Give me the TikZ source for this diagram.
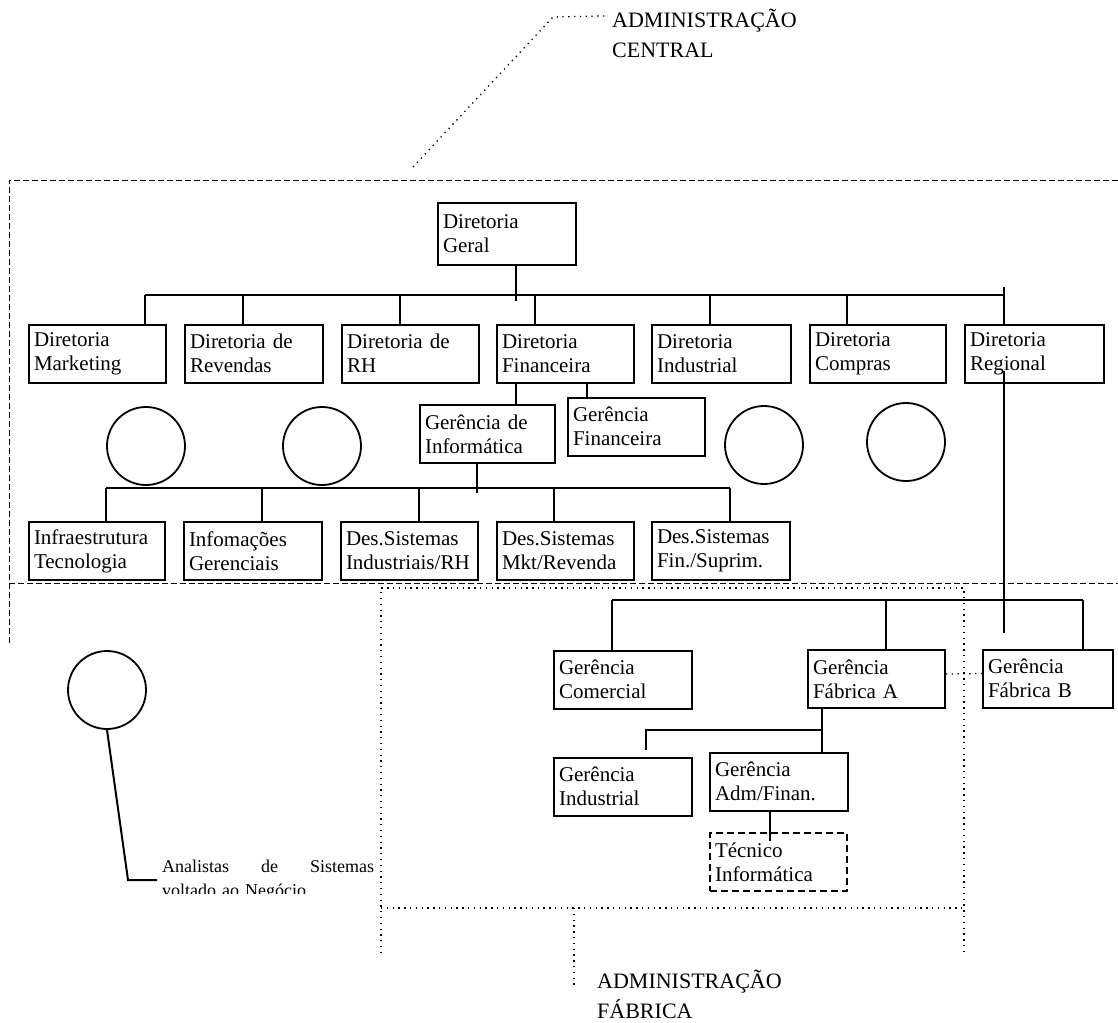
\documentclass[tikz,border=0pt]{standalone}
\usepackage{fontspec}
\setmainfont{Liberation Serif}
\usetikzlibrary{positioning,calc}

\tikzset{
  orgbox/.style={draw, line width=2pt, inner xsep=5pt, inner ysep=0pt,
                 text width=#1, minimum height=58pt, align=left,
                 font=\fontsize{21}{24}\selectfont},
  orgbox/.default=127pt,
  tecbox/.style={orgbox, line width=1.3pt, dash pattern=on 7pt off 4pt},
  orgline/.style={line width=2pt},
  staffcircle/.style={draw, circle, line width=1.8pt, minimum size=78pt, inner sep=0pt},
  areaedge/.style={line width=0.9pt, dash pattern=on 6pt off 3pt},
  areadots/.style={line width=1.3pt, dash pattern=on 1.3pt off 4.5pt},
  arealabel/.style={inner sep=0pt, align=left, font=\fontsize{22}{30}\selectfont},
}

\begin{document}
\begin{tikzpicture}[x=1pt,y=-1pt]
  \useasboundingbox (0,0) rectangle (1118,1022);

  % areas
  \draw[areaedge] (1118,180) -- (9,180) -- (9,645);
  \draw[areaedge] (9,583) -- (1118,583);
  \draw[areadots] (381,953) -- (381,588) -- (964,588) -- (964,953);
  \draw[areadots] (381,908) -- (964,908);

  \node[arealabel, anchor=base west] (lblcentral) at (612,58) {ADMINISTRAÇÃO\\CENTRAL};
  \node[arealabel, anchor=base west] (lblfabrica) at (597,1018) {ADMINISTRAÇÃO\\FÁBRICA};
  \coordinate (leadc) at (413,167);
  \draw[areadots] (leadc) -- (553,17) -- ($(lblcentral.west)+(-6,-18)$);
  \draw[areadots] (574,908) -- (574,985);

  % diretorias
  \node[orgbox=128pt, minimum height=62pt] (geral) at (507,234) {Diretoria\\Geral};

  \node[orgbox]       (mkt)  at (97.5,353.5)  {Diretoria\\Marketing};
  \node[orgbox=128pt] (rev)  at (254,353.5)   {Diretoria de\\Revendas};
  \node[orgbox]       (rh)   at (410.5,353.5) {Diretoria de\\RH};
  \node[orgbox]       (fin)  at (565.5,353.5) {Diretoria\\Financeira};
  \node[orgbox=129pt] (ind)  at (721.5,353.5) {Diretoria\\Industrial};
  \node[orgbox=126pt] (comp) at (878,353.5)   {Diretoria\\Compras};
  \node[orgbox=129pt] (reg)  at (1034.5,353.5){Diretoria\\Regional};

  \node[staffcircle] (st1) at (146,446) {};
  \node[staffcircle] (st2) at (322,446) {};
  \node[staffcircle] (st3) at (764,445) {};
  \node[staffcircle] (st4) at (906,442) {};

  \node[orgbox=125pt] (ginf) at (487.5,434)  {Gerência de\\Informática};
  \node[orgbox]       (gfin) at (636.5,426.5){Gerência\\Financeira};

  \node[orgbox=126pt] (infra) at (97,551)    {Infraestrutura\\Tecnologia};
  \node[orgbox=128pt] (infog) at (253,551)   {Infomações\\Gerenciais};
  \node[orgbox]       (dind)  at (409.5,551) {Des.Sistemas\\Industriais/RH};
  \node[orgbox]       (dmkt)  at (565.5,551) {Des.Sistemas\\Mkt/Revenda};
  \node[orgbox=128pt] (dfin)  at (721,551)   {Des.Sistemas\\Fin./Suprim.};

  % fabrica
  \node[orgbox=128pt] (gcom) at (623,679.5)  {Gerência\\Comercial};
  \node[orgbox]       (faba) at (876.5,679)  {Gerência\\Fábrica A};
  \node[orgbox=120pt] (fabb) at (1048,678.5) {Gerência\\Fábrica B};
  \node[orgbox=128pt] (gind) at (623,786.5)  {Gerência\\Industrial};
  \node[orgbox=128pt] (adm)  at (779,781.5)  {Gerência\\Adm/Finan.};
  \node[tecbox]       (tec)  at (778.5,862)  {Técnico\\Informática};

  % linhas
  \coordinate (bus1) at (0,295);
  \coordinate (bus2) at (0,488);
  \coordinate (bus3) at (0,600);
  \coordinate (bus4) at (0,730);

  \draw[orgline] ($(geral.south west)+(79,0)$) coordinate (gs) -- (gs |- bus1) -- ++(0,6);
  \foreach \n/\o in {mkt/117,rev/59,rh/59,fin/39,ind/59,comp/38,reg/40}
    \draw[orgline] ($(\n.north west)+(\o,0)$) coordinate (\n-top) -- (\n-top |- bus1);
  \draw[orgline] (mkt-top |- bus1) -- (reg-top |- bus1) -- ++(0,-8);

  \draw[orgline] ($(fin.south west)+(20,0)$) coordinate (f1) -- (f1 |- ginf.north);
  \draw[orgline] ($(fin.south west)+(91,0)$) coordinate (f2) -- (f2 |- gfin.north);

  \draw[orgline] ($(ginf.south west)+(58,0)$) coordinate (is) -- (is |- bus2) -- ++(0,5);
  \foreach \n/\o in {infra/78,infog/79,dind/79,dmkt/58,dfin/79}
    \draw[orgline] ($(\n.north west)+(\o,0)$) coordinate (\n-top) -- (\n-top |- bus2);
  \draw[orgline] (infra-top |- bus2) -- (dfin-top |- bus2);

  \draw[orgline] ($(reg-top)+(0,47)$) -- (reg-top |- bus3) -- ++(0,33);
  \foreach \n/\o in {gcom/59,faba/79,fabb/101}
    \draw[orgline] ($(\n.north west)+(\o,0)$) coordinate (\n-top) -- (\n-top |- bus3);
  \draw[orgline] (gcom-top |- bus3) -- (fabb-top |- bus3);
  \draw[areadots] ($(faba.east)+(0,-5)$) -- ($(fabb.west)+(0,-5)$);

  \draw[orgline] ($(faba.south west)+(15,0)$) coordinate (fs) -- (fs |- adm.north);
  \draw[orgline] ($(gind.north west)+(93,-7)$) coordinate (gi) -- (gi |- bus4) -- (fs |- bus4);
  \draw[orgline] ($(adm.south west)+(61,0)$) coordinate (as) -- ($(as |- tec.north)+(0,9)$);

  % analistas
  \node[staffcircle] (analista) at (107,690) {};
  \begin{scope}
    \clip (0,0) rectangle (1118,893);
    \node[inner sep=0pt, text width=212pt, align=left, anchor=base west,
          font=\fontsize{18}{24}\selectfont] (analtxt) at (162,872)
      {Analistas\hfill de\hfill Sistemas\\voltado ao Negócio};
  \end{scope}
  \draw[orgline] (analista.south) -- (128,880) -- (157,880);
\end{tikzpicture}
\end{document}
